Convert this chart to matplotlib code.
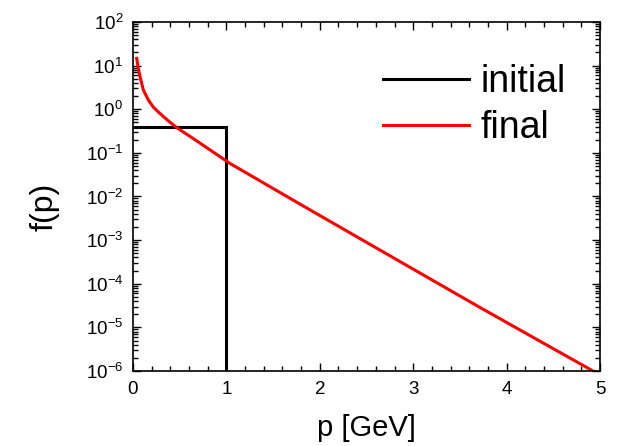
import matplotlib
matplotlib.use("Agg")
import matplotlib.pyplot as plt
from matplotlib.ticker import MultipleLocator, LogLocator, NullFormatter

plt.rcParams['font.family'] = ['Liberation Sans', 'DejaVu Sans']

# data
p_initial = [0.0, 1.0, 1.0]
f_initial = [0.4, 0.4, 1e-7]

p_final = [0.04, 0.055, 0.075, 0.11, 0.164, 0.22, 0.289, 0.37, 0.468, 0.664,
           1.04, 1.788, 2.5, 3.715, 4.925]
f_final = [14.7, 9.0, 5.6, 2.8, 1.63, 1.1, 0.80, 0.56, 0.38, 0.20,
           0.057, 6.7e-3, 8.9e-4, 2.86e-5, 1.0e-6]

labels = ["initial", "final"]

fig = plt.figure(figsize=(6.24, 4.46), dpi=100)
ax = fig.add_axes([133/624, 1-371/446, 467/624, 349/446])

ax.plot(p_initial, f_initial, color='black', lw=2.2, label=labels[0], solid_joinstyle='miter')
ax.plot(p_final, f_final, color='red', lw=2.2, label=labels[1])

ax.set_yscale('log')
ax.set_xlim(0, 5)
ax.set_ylim(1e-6, 1e2)

ax.xaxis.set_major_locator(MultipleLocator(1))
ax.xaxis.set_minor_locator(MultipleLocator(0.2))
ax.yaxis.set_major_locator(LogLocator(base=10, numticks=20))
ax.yaxis.set_minor_locator(LogLocator(base=10, subs=range(2, 10), numticks=20))
ax.yaxis.set_minor_formatter(NullFormatter())

ax.tick_params(which='both', direction='in', top=True, right=True, width=1.0)
ax.tick_params(which='major', length=6, labelsize=13.5, pad=7)
ax.tick_params(which='minor', length=3.5)
for s in ax.spines.values():
    s.set_linewidth(1.2)

ax.set_xlabel('p [GeV]', fontsize=21, labelpad=12)
ax.set_ylabel('f(p)', fontsize=23)
ax.yaxis.set_label_coords(-0.157, 0.47)

leg = ax.legend(loc='upper left', bbox_to_anchor=(0.535, 0.88), frameon=False,
                fontsize=27, handlelength=2.3, handletextpad=0.3, labelspacing=0.27,
                borderpad=0, borderaxespad=0)

fig.savefig('out.png', dpi=100)
